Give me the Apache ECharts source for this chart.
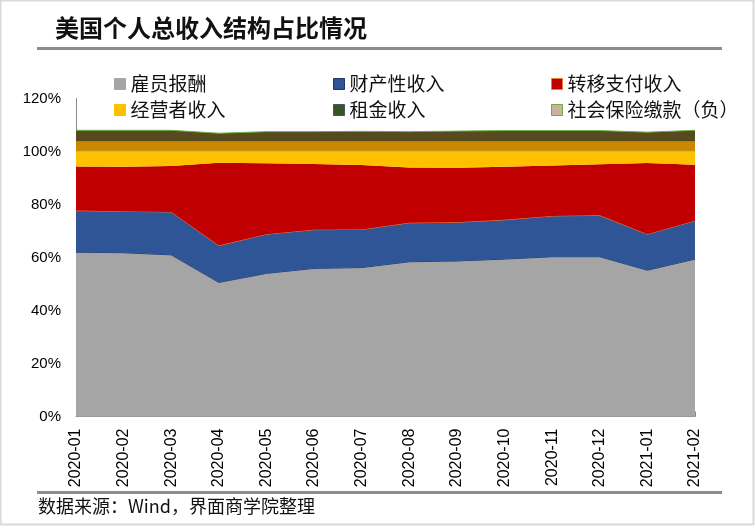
<!DOCTYPE html>
<html>
<head>
<meta charset="utf-8">
<title>美国个人总收入结构占比情况</title>
<script src="https://cdn.jsdelivr.net/npm/echarts@6.0.0/dist/echarts.min.js"></script>
<style>
    html, body { margin: 0; padding: 0; background: #fff; }
    #main { width: 755px; height: 526px; }
</style>
</head>
<body>
<div id="main"></div>
<script>
// 月份
var months = ['2020-01', '2020-02', '2020-03', '2020-04', '2020-05', '2020-06', '2020-07',
    '2020-08', '2020-09', '2020-10', '2020-11', '2020-12', '2021-01', '2021-02'];

// 各项收入占比 (%)
var employeeComp = [62.0, 61.8, 61.0, 50.6, 54.0, 55.9, 56.2, 58.4, 58.7, 59.4, 60.3, 60.3, 55.2, 59.4];
var propertyIncome = [15.7, 15.6, 16.2, 13.9, 14.8, 14.6, 14.4, 14.7, 14.6, 14.8, 15.4, 15.6, 13.6, 14.5];
var transferIncome = [16.6, 16.8, 17.3, 31.3, 26.8, 24.8, 24.3, 20.9, 20.6, 20.0, 19.0, 19.3, 26.9, 21.1];
var businessIncome = [6.0, 6.1, 5.8, 4.5, 4.7, 5.0, 5.4, 6.3, 6.4, 6.1, 5.6, 5.1, 4.6, 5.3];
var rentIncome = [3.6, 3.6, 3.6, 3.6, 3.6, 3.6, 3.6, 3.6, 3.6, 3.6, 3.6, 3.6, 3.6, 3.6];
var socialInsurance = [4.1, 4.1, 4.1, 3.0, 3.6, 3.6, 3.7, 3.6, 3.8, 4.0, 4.0, 4.0, 3.4, 4.1];

// y轴刻度
var yTicks = [0, 20, 40, 60, 80, 100, 120];

var seriesNames = ['雇员报酬', '财产性收入', '转移支付收入', '经营者收入', '租金收入', '社会保险缴款（负）'];
var seriesData = [employeeComp, propertyIncome, transferIncome, businessIncome, rentIncome, socialInsurance];
var areaColors = ['#a5a5a5', '#2f5597', '#c00000', '#ffc000', '#cc8800', '#554b1e'];
var edgeColors = ['#1f3a70', '#ed7d31', '#c00000', '#70ad47', '#7f8ca6', '#70ad47'];
var iconColors = ['#a5a5a5', '#2f5597', '#c00000', '#ffc000', '#375623', '#c9b2a0'];
var iconBorders = ['#a5a5a5', '#1f3864', '#ed7d31', '#ffc000', '#44546a', '#70ad47'];

var cjkFont = '"Noto Sans CJK SC", sans-serif';
var numFont = '"Liberation Sans", Arial, sans-serif';

function legendItem(i) {
    return {
        name: seriesNames[i],
        icon: 'rect',
        itemStyle: { color: iconColors[i], borderColor: iconBorders[i], borderWidth: 1 }
    };
}

function legendCol(left, a, b) {
    return {
        orient: 'vertical',
        left: left,
        top: 69,
        itemWidth: 11,
        itemHeight: 11,
        itemGap: 6,
        itemTextGap: 6,
        selectedMode: false,
        textStyle: { fontFamily: cjkFont, fontSize: 19, lineHeight: 20, color: '#111' },
        data: [legendItem(a), legendItem(b)]
    };
}

var series = seriesData.map(function (d, i) {
    return {
        name: seriesNames[i],
        type: 'line',
        stack: 'total',
        symbol: 'none',
        data: d,
        itemStyle: { color: iconColors[i] },
        lineStyle: { color: edgeColors[i], width: i === 2 ? 0 : 1 },
        areaStyle: { color: areaColors[i], opacity: 1 },
        z: 2 + i
    };
});

var option = {
    animation: false,
    backgroundColor: '#fff',
    title: {
        text: '美国个人总收入结构占比情况',
        left: 50,
        top: 11,
        textStyle: { fontFamily: cjkFont, fontSize: 24, fontWeight: 'bold', color: '#111' }
    },
    legend: [
        legendCol(109, 0, 3),
        legendCol(328, 1, 4),
        legendCol(546, 2, 5)
    ],
    grid: { left: 76, right: 60, top: 98.5, bottom: 109.5 },
    xAxis: {
        type: 'category',
        data: months,
        boundaryGap: false,
        axisLine: { lineStyle: { color: '#898989', width: 1 } },
        axisTick: { inside: true, length: 5, lineStyle: { color: '#898989' } },
        axisLabel: { rotate: 90, margin: 12, fontFamily: numFont, fontSize: 16, color: '#000' }
    },
    yAxis: {
        type: 'value',
        min: yTicks[0],
        max: yTicks[yTicks.length - 1],
        interval: 20,
        axisLine: { show: true, lineStyle: { color: '#898989', width: 1 } },
        axisTick: { show: false },
        splitLine: { show: false },
        axisLabel: { margin: 15, fontFamily: numFont, fontSize: 15, color: '#000', formatter: '{value}%' }
    },
    graphic: [
        // 外框
        { type: 'rect', shape: { x: 0.5, y: 0.5, width: 753, height: 524 }, style: { fill: 'none', stroke: '#d9d9d9', lineWidth: 2 }, silent: true },
        // 标题下划线
        { type: 'rect', shape: { x: 37, y: 47, width: 685, height: 3 }, style: { fill: '#8c8c8c' }, silent: true },
        // 底部分隔线
        { type: 'rect', shape: { x: 37, y: 491, width: 685, height: 3 }, style: { fill: '#8c8c8c' }, silent: true },
        {
            type: 'text',
            left: 38,
            top: 497,
            style: { text: '数据来源：Wind，界面商学院整理', fontFamily: cjkFont, fontSize: 18, fill: '#111' },
            silent: true
        }
    ],
    series: series
};

echarts.init(document.getElementById('main')).setOption(option);
</script>
</body>
</html>
